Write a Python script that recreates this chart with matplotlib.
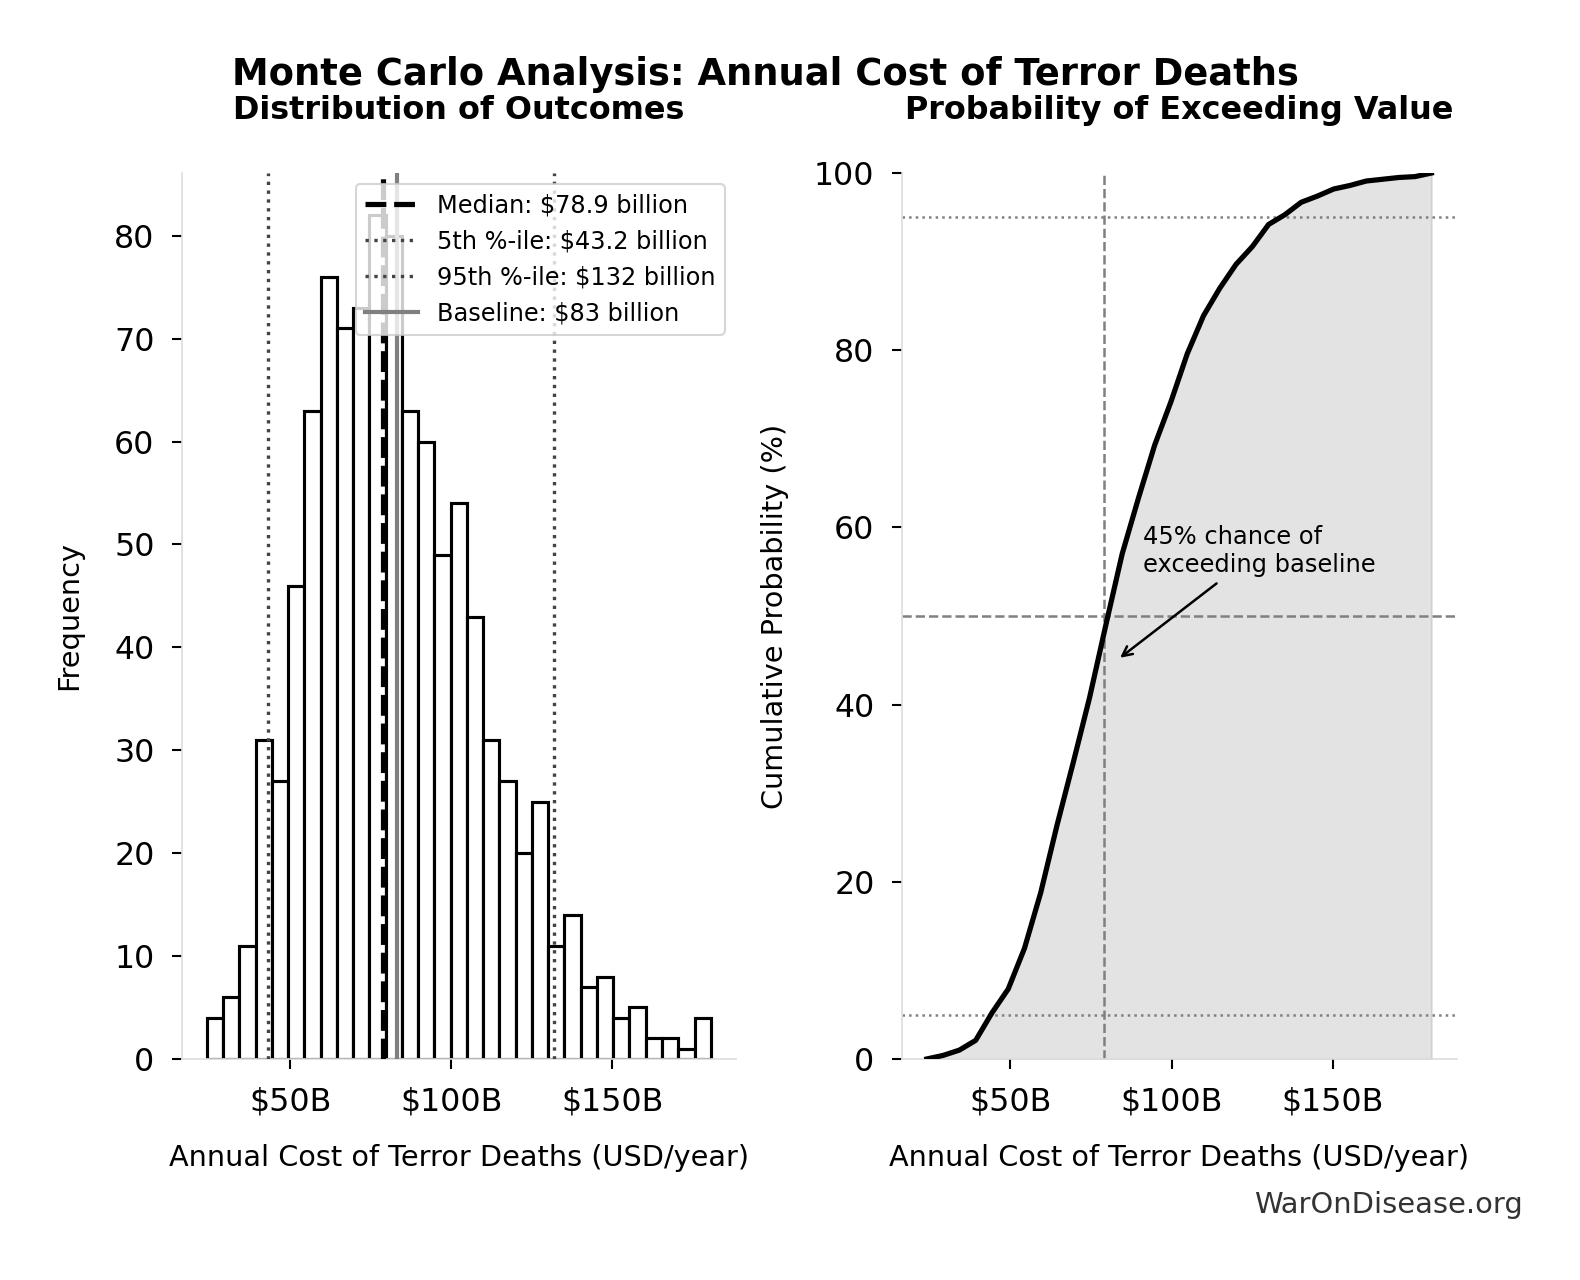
import numpy as np
import matplotlib
matplotlib.use("Agg")
import matplotlib.pyplot as plt

# histogram (1000 simulated outcomes, billions USD/year)
bin_start = 24.06
bin_width = 5.05
counts = [4, 6, 11, 31, 27, 46, 63, 76, 71, 73, 82, 80, 63, 60, 49, 54,
          43, 31, 27, 20, 25, 11, 14, 7, 8, 4, 5, 2, 2, 1, 4]

median = 78.9
p5 = 43.2
p95 = 132
baseline = 83
exceed_pct = 45

tick_vals = [50, 100, 150]
tick_labels = ["$50B", "$100B", "$150B"]

edges = bin_start + bin_width * np.arange(len(counts) + 1)
centers = edges[:-1] + bin_width / 2
cum_pct = np.concatenate([[0], np.cumsum(counts)]) / sum(counts) * 100

spine_col = "#dddddd"

fig = plt.figure(figsize=(1581 / 150, 1280 / 150), dpi=150)
ax1 = fig.add_axes([0.1149, 0.1727, 0.3506, 0.6921])
ax2 = fig.add_axes([0.5703, 0.1727, 0.3510, 0.6921])

# left: histogram
ax1.bar(centers, counts, width=bin_width, color="white", edgecolor="black",
        linewidth=1.5, zorder=2)
ax1.axvline(median, color="black", ls="--", lw=2.5, dashes=(4, 1.5), zorder=3,
            label=f"Median: ${median} billion")
ax1.axvline(p5, color="#444444", ls=":", lw=1.6, zorder=3,
            label=f"5th %-ile: ${p5} billion")
ax1.axvline(p95, color="#444444", ls=":", lw=1.6, zorder=3,
            label=f"95th %-ile: ${p95} billion")
ax1.axvline(baseline, color="gray", ls="-", lw=2, zorder=3,
            label=f"Baseline: ${baseline} billion")
ax1.set_ylabel("Frequency", fontsize=13.8, labelpad=15)
ax1.set_title("Distribution of Outcomes", fontsize=15.3, fontweight="bold", pad=26)
ax1.legend(loc="upper right", fontsize=11.5, framealpha=0.8, edgecolor="#cccccc",
           handlelength=2.2, borderaxespad=0.45)

# right: cumulative
ax2.plot(edges, cum_pct, color="black", lw=2.5, zorder=3, solid_joinstyle="round")
ax2.fill_between(edges, cum_pct, color="gray", alpha=0.22, zorder=1)
ax2.axhline(95, color="gray", ls=":", lw=1.2)
ax2.axhline(5, color="gray", ls=":", lw=1.2)
ax2.axhline(50, color="gray", ls="--", lw=1.2)
ax2.axvline(median, color="gray", ls="--", lw=1.2)
ax2.set_ylim(0, 100)
ax2.set_ylabel("Cumulative Probability (%)", fontsize=13.8, labelpad=12)
ax2.set_title("Probability of Exceeding Value", fontsize=15.3, fontweight="bold", pad=26)
ax2.annotate(f"{exceed_pct}% chance of\nexceeding baseline",
             xy=(baseline, 45), xytext=(baseline + 8, 55), fontsize=11.6,
             arrowprops=dict(arrowstyle="->", color="black", lw=1.2))

for ax in (ax1, ax2):
    ax.set_xticks(tick_vals)
    ax.set_xticklabels(tick_labels)
    ax.set_xlabel("Annual Cost of Terror Deaths (USD/year)", fontsize=13.8, labelpad=13)
    ax.tick_params(labelsize=15.2, length=5, width=1, pad=8)
    for s in ("top", "right"):
        ax.spines[s].set_visible(False)
    for s in ("left", "bottom"):
        ax.spines[s].set_color(spine_col)

fig.text(0.484, 0.942, "Monte Carlo Analysis: Annual Cost of Terror Deaths",
         ha="center", va="center", fontsize=17.7, fontweight="bold")
fig.text(0.963, 0.0586, "WarOnDisease.org", ha="right", va="center",
         fontsize=13.9, color="#333333")

fig.savefig("out.png", dpi=150)
